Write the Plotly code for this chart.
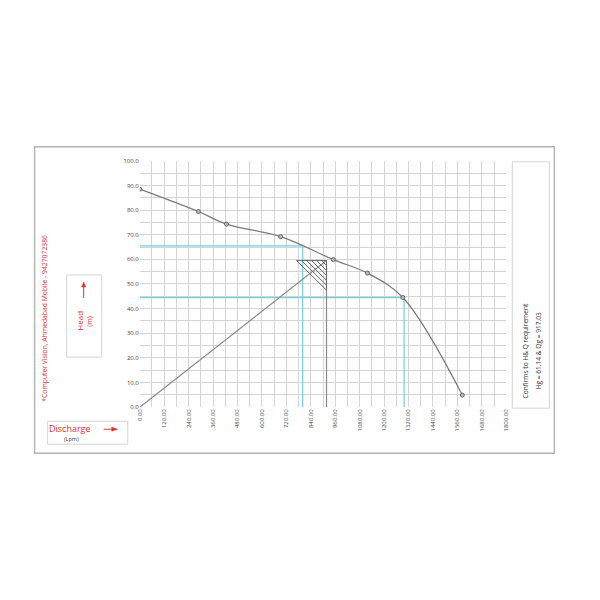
import plotly.graph_objects as go

# ---- data ----
flow = [0, 288, 426, 692, 951, 1118, 1292, 1584]          # Lpm
head = [88.5, 79.4, 74.3, 69.2, 59.9, 54.4, 44.5, 4.9]     # m

duty_flow = [800, 1298]      # blue guide lines
duty_head = [65.5, 44.5]

Qg = 917.03
Hg = 61.14
sys_flow = [0, Qg]
sys_head = [0, 59.5]

tri_flow = [770, Qg, Qg, 770]
tri_head = [59.5, 59.5, 47.5, 59.5]

x_ticks = [0, 120, 240, 360, 480, 600, 720, 840, 960, 1080, 1200, 1320, 1440, 1560, 1680, 1800]
y_ticks = [0, 10, 20, 30, 40, 50, 60, 70, 80, 90, 100]

W, H = 600, 600
S = 1.015  # compensation for rendering scale
def px(x):
    return (300 + (x - 300) * S) / W
def py(y):
    return 1 - (300 + (y - 300) * S) / H

fig = go.Figure()

# blue duty lines
for q, h in zip(duty_flow, duty_head):
    fig.add_trace(go.Scatter(x=[0, q, q], y=[h, h, 0], mode="lines",
                             line=dict(color="#6fd0e6", width=1.2),
                             hoverinfo="skip", showlegend=False))

# system line and vertical Qg line
fig.add_trace(go.Scatter(x=sys_flow, y=sys_head, mode="lines",
                         line=dict(color="#8a8a8a", width=1.2), showlegend=False))
fig.add_trace(go.Scatter(x=[Qg, Qg], y=[0, tri_head[0]], mode="lines",
                         line=dict(color="#8a8a8a", width=1.2), showlegend=False))

# tolerance triangle
fig.add_trace(go.Scatter(x=tri_flow, y=tri_head, mode="lines",
                         line=dict(color="#666666", width=1), showlegend=False))
# hatching parallel to hypotenuse
x0, x1 = tri_flow[0], tri_flow[1]
ytop, ybot = tri_head[0], tri_head[2]
slope = (ybot - ytop) / (x1 - x0)
n_h = 5
for k in range(1, n_h + 1):
    xs = x0 + k * (x1 - x0) / (n_h + 1)
    ye = ytop + slope * (x1 - xs)
    fig.add_trace(go.Scatter(x=[xs, x1], y=[ytop, ye], mode="lines",
                             line=dict(color="#666666", width=1), showlegend=False))

# pump curve
fig.add_trace(go.Scatter(x=flow, y=head, mode="lines+markers",
                         line=dict(color="#7a7a7a", width=1.2, shape="spline", smoothing=1.0),
                         marker=dict(size=4, color="#bbbbbb", line=dict(color="#666666", width=1)),
                         showlegend=False))

shapes = []
def rect(x0_, y0_, x1_, y1_, color, width):
    shapes.append(dict(type="rect", xref="paper", yref="paper",
                       x0=px(x0_), x1=px(x1_), y0=py(y1_), y1=py(y0_),
                       line=dict(color=color, width=width), fillcolor="rgba(0,0,0,0)", layer="below"))

rect(35, 147, 554, 453, "#b5b5b5", 1.5)   # outer frame
rect(512, 162, 549, 408, "#d5d5d5", 1)    # right note box
rect(67, 275, 102, 357, "#d5d5d5", 1)     # Head box
rect(48, 421, 128, 444, "#d5d5d5", 1)     # Discharge box

# arrows (red)
shapes.append(dict(type="line", xref="paper", yref="paper",
                   x0=px(84), x1=px(84), y0=py(298), y1=py(285),
                   line=dict(color="#e03030", width=1)))
shapes.append(dict(type="path", xref="paper", yref="paper",
                   path=f"M {px(82)},{py(287)} L {px(86)},{py(287)} L {px(84)},{py(282)} Z",
                   fillcolor="#e03030", line=dict(color="#e03030", width=0.5)))
shapes.append(dict(type="line", xref="paper", yref="paper",
                   x0=px(104), x1=px(113), y0=py(429), y1=py(429),
                   line=dict(color="#e03030", width=1)))
shapes.append(dict(type="path", xref="paper", yref="paper",
                   path=f"M {px(112)},{py(427)} L {px(112)},{py(431)} L {px(118)},{py(429)} Z",
                   fillcolor="#e03030", line=dict(color="#e03030", width=0.5)))

def note(x, y, text, size, color, angle=0):
    return dict(x=px(x), y=py(y), xref="paper", yref="paper", text=text, textangle=angle,
                showarrow=False, xanchor="center", yanchor="middle",
                font=dict(size=size, color=color, family="Open Sans"))

annotations = [
    note(79, 321, "Head", 8, "#e03030", -90),
    note(89, 321, "(m)", 7, "#e03030", -90),
    note(70, 428, "Discharge", 9, "#e03030"),
    note(72, 438.5, "(Lpm)", 5.5, "#333333"),
    note(44, 318, "*Computer Vision, Ahmedabad Mobile - 9427072386", 6.8, "#e03030", -90),
    note(525, 351, "Confirms to H& Q requirement", 6.6, "#333333", -90),
    note(538, 351, "Hg = 61.14 & Qg = 917.03", 6.6, "#333333", -90),
]

fig.update_layout(
    width=W, height=H, autosize=False,
    margin=dict(l=0, r=0, t=0, b=0),
    paper_bgcolor="white", plot_bgcolor="white",
    shapes=shapes, annotations=annotations,
    xaxis=dict(domain=[px(140), px(506)], range=[0, 1800],
               tickvals=x_ticks, ticktext=[f"{v:.2f}" for v in x_ticks],
               tickangle=-90, tickfont=dict(size=6, color="#444444", family="Open Sans"),
               showgrid=True, gridcolor="#d4d4d4", gridwidth=1,
               minor=dict(dtick=60, showgrid=True, gridcolor="#d4d4d4", gridwidth=1),
               zeroline=False, showline=False, ticks="", fixedrange=True),
    yaxis=dict(domain=[py(407), py(161)], range=[0, 100],
               tickvals=y_ticks, ticktext=[f"{v:.1f}" for v in y_ticks],
               tickfont=dict(size=6, color="#444444", family="Open Sans"),
               showgrid=True, gridcolor="#d4d4d4", gridwidth=1,
               minor=dict(dtick=5, showgrid=True, gridcolor="#d4d4d4", gridwidth=1),
               zeroline=False, showline=False, ticks="", fixedrange=True),
)

fig.write_html("out.html", config={"displayModeBar": False},
               post_script="document.body.style.margin='0';document.body.style.padding='0';document.body.style.overflow='hidden';")
